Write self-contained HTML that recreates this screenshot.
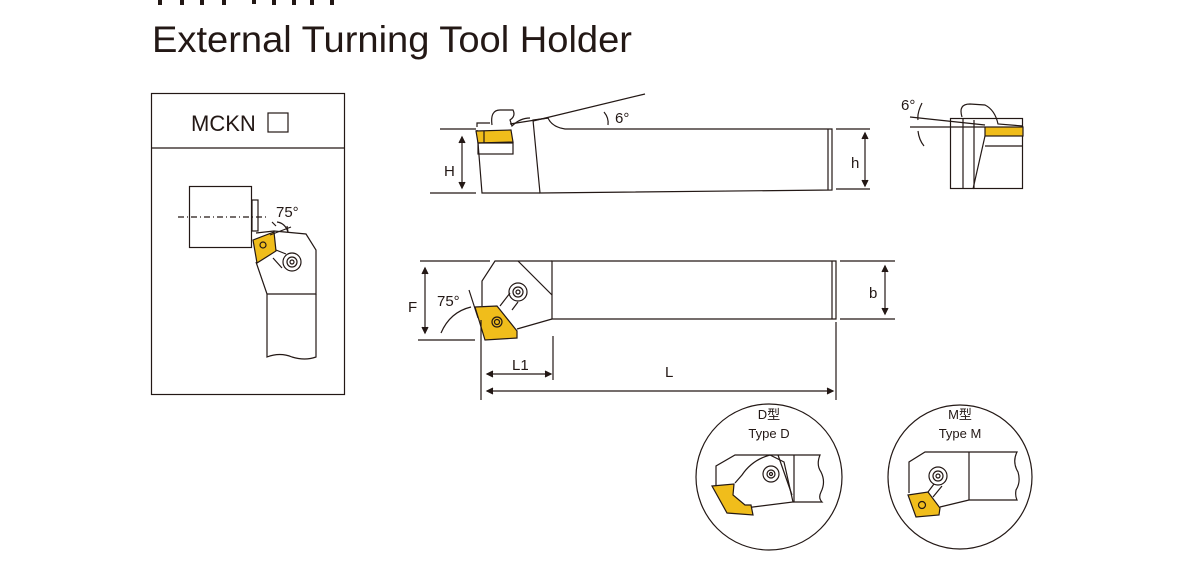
<!DOCTYPE html>
<html><head><meta charset="utf-8"><style>body{margin:0;background:#fff}svg{display:block}</style></head><body>
<svg width="1191" height="564" viewBox="0 0 1191 564" xmlns="http://www.w3.org/2000/svg" font-family="Liberation Sans, Noto Sans CJK SC, sans-serif" fill="none" stroke="#231815" stroke-width="1.2">
<g fill="#231815" stroke="none"><rect x="158" y="0" width="4" height="5"/><rect x="180" y="0" width="4" height="5"/><rect x="200" y="0" width="4" height="5"/><rect x="222" y="0" width="4" height="5"/><rect x="252" y="0" width="4" height="4"/><rect x="272" y="0" width="4" height="5"/><rect x="292" y="0" width="4" height="5"/><rect x="310" y="0" width="4" height="5"/><rect x="330" y="0" width="4" height="5"/></g>
<text x="152" y="52" font-size="37" fill="#231815" stroke="none" textLength="480" lengthAdjust="spacingAndGlyphs">External Turning Tool Holder</text>

<rect x="151.5" y="93.5" width="193" height="301"/>
<line x1="151" y1="148" x2="344" y2="148"/>
<text x="191" y="131" font-size="22" fill="#231815" stroke="none">MCKN</text>
<rect x="268" y="113" width="20" height="19"/>
<rect x="189.5" y="186.5" width="62" height="61"/>
<rect x="252" y="200" width="6" height="31"/>
<line x1="178" y1="217" x2="268" y2="217" stroke-dasharray="6,3,1,3"/>
<path d="M256 233 L274 231 L306 234 L316 250 L316 294 L267 294 L256 262" />
<polygon points="253,240 274,232 276,251 257,263" fill="#f0bd1b"/>
<circle cx="263" cy="245" r="3"/>
<path d="M276 250 L286 254 M273 258 L282 268"/>
<circle cx="292" cy="262" r="9"/><circle cx="292" cy="262" r="5"/><circle cx="292" cy="262" r="2"/>
<path d="M267 294 L267 357 Q280 352 292 357 Q305 361 316 357 L316 294"/>
<path d="M277 222 Q285 223 288 232"/><path d="M276 226 L272 222 M288 232 L287 226" />
<line x1="270" y1="235" x2="291" y2="227"/>
<text x="276" y="217" font-size="15" fill="#231815" stroke="none">75°</text>

<path d="M540 193 L832 190 L832 129 L565 129 Q552 127 548 118 L533 120 L540 193 Z"/>
<line x1="828" y1="129" x2="828" y2="190"/>
<path d="M477 130 L482 193 L540 193"/>
<path d="M477 127 L477 123 L490 123"/>
<path d="M492 125 Q490 110 500 110 L513 110 Q516 116 510 120 L512 126 Q520 118 530 118"/>
<polygon points="476,131 511,130 513,142 478,143" fill="#f0bd1b"/>
<line x1="484" y1="131" x2="484" y2="143"/>
<rect x="478" y="143" width="35" height="11"/>
<line x1="533" y1="121" x2="645" y2="94"/>
<line x1="510" y1="124" x2="548" y2="118"/>
<path d="M604 112 Q609 118 608 125"/>
<text x="615" y="123" font-size="15" fill="#231815" stroke="none">6°</text>
<line x1="440" y1="129" x2="476" y2="129"/><line x1="430" y1="193" x2="476" y2="193"/>
<line x1="462" y1="137" x2="462" y2="188"/>
<path d="M459 143 L462 137 L465 143 M459 182 L462 188 L465 182" fill="#231815"/>
<text x="444" y="176" font-size="15" fill="#231815" stroke="none">H</text>
<line x1="836" y1="129" x2="870" y2="129"/><line x1="836" y1="189" x2="870" y2="189"/>
<line x1="865" y1="133" x2="865" y2="186"/>
<path d="M862 139 L865 133 L868 139 M862 180 L865 186 L868 180" fill="#231815"/>
<text x="851" y="168" font-size="15" fill="#231815" stroke="none">h</text>

<rect x="950.5" y="118.5" width="72" height="70"/>
<line x1="963" y1="118" x2="963" y2="189"/><line x1="974" y1="120" x2="974" y2="189"/>
<rect x="985" y="127" width="38" height="9" fill="#f0bd1b"/>
<line x1="985" y1="146" x2="1023" y2="146"/>
<line x1="985" y1="136" x2="973" y2="189"/>
<path d="M962 117 Q958 104 970 104 L985 105 Q995 110 998 124 L1023 126"/>
<line x1="910" y1="117" x2="985" y2="125"/><line x1="910" y1="127" x2="985" y2="127"/>
<path d="M922 103 Q917 113 918 120 M918 131 Q919 140 924 146"/>
<text x="901" y="110" font-size="15" fill="#231815" stroke="none">6°</text>

<path d="M552 261 L836 261 L836 319 L552 319 Z"/>
<line x1="832" y1="261" x2="832" y2="319"/>
<path d="M552 261 L495 261 L482 281 L482 306"/>
<line x1="518" y1="261" x2="552" y2="295"/>
<path d="M517 329 L552 319"/>
<polygon points="475,307 497,306 517,331 517,338 485,340" fill="#f0bd1b"/>
<circle cx="497" cy="322" r="5"/><circle cx="497" cy="322" r="2.5"/>
<path d="M500 306 L510 293 M512 310 L518 302"/>
<circle cx="518" cy="292" r="9"/><circle cx="518" cy="292" r="5"/><circle cx="518" cy="292" r="2"/>
<line x1="420" y1="261" x2="490" y2="261"/><line x1="418" y1="340" x2="475" y2="340"/>
<line x1="425" y1="268" x2="425" y2="333"/>
<path d="M422 274 L425 268 L428 274 M422 327 L425 333 L428 327" fill="#231815"/>
<text x="408" y="312" font-size="15" fill="#231815" stroke="none">F</text>
<text x="437" y="306" font-size="15" fill="#231815" stroke="none">75°</text>
<line x1="469" y1="290" x2="478" y2="318"/>
<path d="M471 307 Q450 312 441 333"/>
<line x1="481" y1="320" x2="481" y2="400"/>
<line x1="553" y1="336" x2="553" y2="380"/>
<line x1="487" y1="374" x2="551" y2="374"/>
<path d="M493 371 L487 374 L493 377 M545 371 L551 374 L545 377" fill="#231815"/>
<text x="512" y="370" font-size="15" fill="#231815" stroke="none">L1</text>
<line x1="836" y1="322" x2="836" y2="400"/>
<line x1="487" y1="391" x2="833" y2="391"/>
<path d="M493 388 L487 391 L493 394 M827 388 L833 391 L827 394" fill="#231815"/>
<text x="665" y="377" font-size="15" fill="#231815" stroke="none">L</text>
<line x1="840" y1="261" x2="895" y2="261"/><line x1="840" y1="319" x2="895" y2="319"/>
<line x1="885" y1="266" x2="885" y2="314"/>
<path d="M882 272 L885 266 L888 272 M882 308 L885 314 L888 308" fill="#231815"/>
<text x="869" y="298" font-size="15" fill="#231815" stroke="none">b</text>

<circle cx="769" cy="477" r="73"/>
<text x="769" y="419" font-size="13" text-anchor="middle" fill="#231815" stroke="none">D型</text>
<text x="769" y="438" font-size="13" text-anchor="middle" fill="#231815" stroke="none">Type D</text>
<path d="M716 487 L716 466 L735 455 L820 455 Q816 465 821 472 Q826 482 821 492 Q818 498 822 502 L793 502"/>
<line x1="794" y1="455" x2="794" y2="502"/>
<path d="M745 508 L793 502 L784 462 L770 455 Q752 460 742 475 L735 483"/>
<line x1="778" y1="455" x2="792" y2="495"/>
<polygon points="712,486 734,484 733,495 745,505 751,505 753,515 727,513" fill="#f0bd1b"/>
<circle cx="771" cy="474" r="8"/><circle cx="771" cy="474" r="4"/><circle cx="771" cy="474" r="1.5"/>

<circle cx="960" cy="477" r="72"/>
<text x="960" y="419" font-size="13" text-anchor="middle" fill="#231815" stroke="none">M型</text>
<text x="960" y="438" font-size="13" text-anchor="middle" fill="#231815" stroke="none">Type M</text>
<path d="M909 493 L909 462 L925 452 L1017 452 Q1012 462 1018 472 Q1021 482 1016 490 Q1015 496 1017 500 L969 500"/>
<line x1="969" y1="452" x2="969" y2="500"/>
<path d="M940 507 L969 500"/>
<polygon points="908,495 928,492 940,508 939,515 916,517" fill="#f0bd1b"/>
<circle cx="922" cy="505" r="3.5"/>
<path d="M928 492 L934 484 M933 497 L942 486"/>
<circle cx="938" cy="476" r="9"/><circle cx="938" cy="476" r="5"/><circle cx="938" cy="476" r="2"/>
</svg>
</body></html>
